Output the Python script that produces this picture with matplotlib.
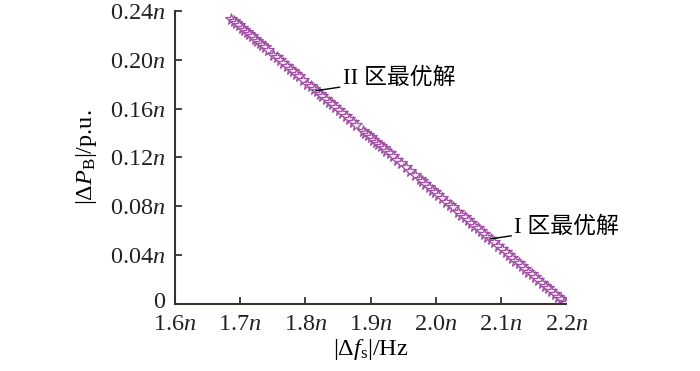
import matplotlib.pyplot as plt
import matplotlib.transforms as mtransforms

plt.rcParams['font.family'] = ['Liberation Serif', 'Noto Sans CJK SC']
plt.rcParams['mathtext.fontset'] = 'custom'
plt.rcParams['mathtext.rm'] = 'Liberation Serif'
plt.rcParams['mathtext.it'] = 'Liberation Serif:italic'

# optimal front points (|df_s|, |dP_B|), units of n
df_s = [1.686, 1.690, 1.694, 1.698, 1.702, 1.706, 1.710, 1.714, 1.718, 1.722, 1.726, 1.730, 1.734, 1.738, 1.743,
        1.751, 1.756, 1.761, 1.766, 1.771, 1.776, 1.781, 1.786,
        1.790, 1.796, 1.803,
        1.808, 1.813, 1.817, 1.822, 1.826, 1.831, 1.836, 1.840, 1.845,
        1.851, 1.856, 1.862, 1.867, 1.873, 1.878,
        1.888, 1.892, 1.896, 1.900, 1.904, 1.908, 1.912, 1.916, 1.920, 1.924, 1.929, 1.934, 1.940, 1.947,
        1.954, 1.961, 1.968, 1.975,
        1.979, 1.984, 1.989, 1.994, 1.999, 2.004, 2.010, 2.016, 2.021, 2.026,
        2.034, 2.039, 2.044, 2.049, 2.054, 2.059, 2.064, 2.069, 2.074, 2.079, 2.084, 2.089, 2.095, 2.101,
        2.107, 2.112, 2.117, 2.122, 2.127, 2.132, 2.137, 2.142, 2.147, 2.152, 2.157, 2.162, 2.167, 2.172,
        2.177, 2.182, 2.187, 2.192, 2.196, 2.199]
dP_B = [0.2338, 0.2320, 0.2302, 0.2284, 0.2265, 0.2247, 0.2229, 0.2211, 0.2193, 0.2174, 0.2156, 0.2138, 0.2120, 0.2102, 0.2079,
        0.2043, 0.2020, 0.1997, 0.1974, 0.1952, 0.1929, 0.1906, 0.1883,
        0.1865, 0.1838, 0.1806,
        0.1783, 0.1761, 0.1742, 0.1720, 0.1701, 0.1679, 0.1656, 0.1638, 0.1615,
        0.1588, 0.1565, 0.1538, 0.1515, 0.1488, 0.1465,
        0.1419, 0.1401, 0.1383, 0.1365, 0.1347, 0.1328, 0.1310, 0.1292, 0.1274, 0.1256, 0.1233, 0.1210, 0.1183, 0.1151,
        0.1119, 0.1087, 0.1055, 0.1024,
        0.1005, 0.0983, 0.0960, 0.0937, 0.0914, 0.0892, 0.0864, 0.0837, 0.0814, 0.0792,
        0.0755, 0.0732, 0.0710, 0.0687, 0.0664, 0.0641, 0.0619, 0.0596, 0.0573, 0.0550, 0.0528, 0.0505, 0.0478, 0.0450,
        0.0423, 0.0400, 0.0378, 0.0355, 0.0332, 0.0309, 0.0287, 0.0264, 0.0241, 0.0218, 0.0196, 0.0173, 0.0150,
        0.0127, 0.0105, 0.0082, 0.0059, 0.0036, 0.0018, 0.0005]

xticks = [1.6, 1.7, 1.8, 1.9, 2.0, 2.1, 2.2]
yticks = [0, 0.04, 0.08, 0.12, 0.16, 0.20, 0.24]
opt2 = (1.816, 0.1747)   # II zone optimum
opt1 = (2.083, 0.0532)   # I zone optimum

fig = plt.figure(figsize=(7, 3.71), dpi=100)
ax = fig.add_axes([0.25, 0.181, 0.559, 0.789])

ax.plot(df_s, dP_B, linestyle='none', marker='*', markersize=8.5,
        markerfacecolor='#fbeefa', markeredgecolor='#a04fa3', markeredgewidth=0.9)

ax.set_xlim(1.6, 2.2)
ax.set_ylim(0, 0.24)
ax.set_xticks(xticks)
ax.set_xticklabels(['%.1f$n$' % v for v in xticks])
ax.set_yticks(yticks)
ax.set_yticklabels(['0'] + ['%.2f$n$' % v for v in yticks[1:]])
ax.tick_params(direction='in', length=5, width=1.2, labelsize=17.5, colors='#222222')
ax.tick_params(axis='y', pad=7)
ax.tick_params(axis='x', pad=7)
for s in ['top', 'right']:
    ax.spines[s].set_visible(False)
for s in ['left', 'bottom']:
    ax.spines[s].set_linewidth(1.5)
    ax.spines[s].set_color('#3a3330')

# lift the "0" label a little so it clears "1.6n"
zero = ax.get_yticklabels()[0]
zero.set_transform(zero.get_transform() + mtransforms.ScaledTranslation(0, 3 / 72, fig.dpi_scale_trans))

ax.set_xlabel(r'$|\Delta f_{\mathrm{s}}|$/Hz', fontsize=17.5, labelpad=2)
ax.set_ylabel(r'$|\Delta P_{\mathrm{B}}|$/p.u.', fontsize=17.5, labelpad=8)

ax.annotate('II 区最优解', xy=opt2, xytext=(1.857, 0.185), fontsize=16.5, va='center',
            arrowprops=dict(arrowstyle='-', color='black', lw=1.0, shrinkA=0, shrinkB=0))
ax.annotate('I 区最优解', xy=opt1, xytext=(2.12, 0.0625), fontsize=16.5, va='center',
            arrowprops=dict(arrowstyle='-', color='black', lw=1.0, shrinkA=0, shrinkB=0))

fig.savefig('out.png', dpi=100)
